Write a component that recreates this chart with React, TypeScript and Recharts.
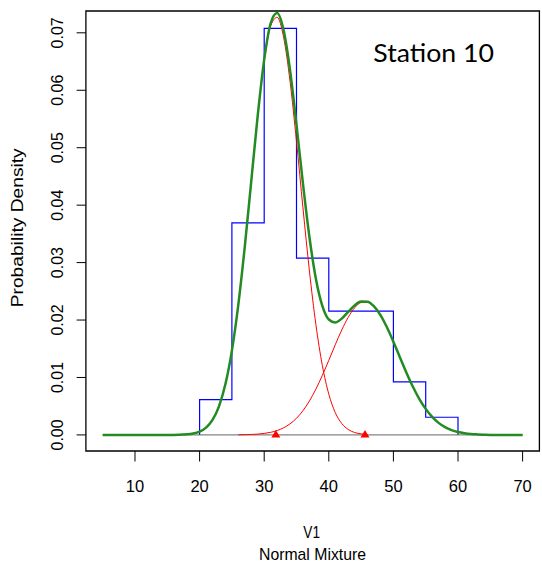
import React from 'react';
import { ComposedChart, Line, Scatter, XAxis, YAxis, ReferenceArea } from 'recharts';

// Histogram (density scale), bin edges and heights, drawn as a step outline
const histX = [20, 20, 25, 30, 35, 40, 45, 50, 55, 60];
const histY = [0, 0.00615, 0.03692, 0.07077, 0.03077, 0.02154, 0.02154, 0.00923, 0.00308, 0];

// Component 1 density (red)
const comp1X = [17, 18, 19, 20, 21, 22, 23, 24, 25, 26, 27, 28, 29, 30, 31, 32, 33, 34, 35, 36, 37, 38, 39, 40, 41, 42, 43, 44, 45, 46];
const comp1Y = [0.00004, 0.0001, 0.00025, 0.00059, 0.00128, 0.00261, 0.00498, 0.00885, 0.01468, 0.02271, 0.03278, 0.04415, 0.05549, 0.06508, 0.07121, 0.0727, 0.06926, 0.06157, 0.05107, 0.03952, 0.02855, 0.01923, 0.01209, 0.0071, 0.00388, 0.00199, 0.00095, 0.00042, 0.00018, 0.00007];

// Component 2 density (red)
const comp2X = [26, 27, 28, 29, 30, 31, 32, 33, 34, 35, 36, 37, 38, 39, 40, 41, 42, 43, 44, 45, 46, 47, 48, 49, 50, 51, 52, 53, 54, 55, 56, 57, 58, 59, 60, 61, 62, 63, 64, 65];
const comp2Y = [0.00002, 0.00004, 0.00008, 0.00014, 0.00026, 0.00045, 0.00076, 0.00123, 0.00193, 0.0029, 0.00422, 0.00591, 0.00797, 0.01037, 0.01299, 0.01569, 0.01826, 0.02047, 0.02213, 0.02305, 0.02313, 0.02237, 0.02086, 0.01873, 0.01622, 0.01353, 0.01088, 0.00843, 0.00629, 0.00453, 0.00314, 0.0021, 0.00135, 0.00084, 0.0005, 0.00029, 0.00016, 0.00009, 0.00004, 0.00002];

// Mixture total (green)
const totalX = [5, 6, 7, 8, 9, 10, 11, 12, 13, 14, 15, 16, 17, 18, 19, 20, 21, 22, 23, 24, 25, 26, 27, 28, 29, 30, 31, 32, 33, 34, 35, 36, 37, 38, 39, 40, 41, 42, 43, 44, 45, 46, 47, 48, 49, 50, 51, 52, 53, 54, 55, 56, 57, 58, 59, 60, 61, 62, 63, 64, 65, 66, 67, 68, 69, 70];
const totalY = [0, 0, 0, 0, 0, 0, 0, 0, 0, 0, 0, 0, 0.00004, 0.0001, 0.00025, 0.00059, 0.00128, 0.00261, 0.00498, 0.00885, 0.01468, 0.02273, 0.03282, 0.04423, 0.05563, 0.06534, 0.07166, 0.07346, 0.07049, 0.0635, 0.05397, 0.04374, 0.03446, 0.0272, 0.02246, 0.02009, 0.01957, 0.02025, 0.02142, 0.02255, 0.02323, 0.0232, 0.02237, 0.02086, 0.01873, 0.01622, 0.01353, 0.01088, 0.00843, 0.00629, 0.00453, 0.00314, 0.0021, 0.00135, 0.00084, 0.0005, 0.00029, 0.00016, 0.00009, 0.00004, 0, 0, 0, 0, 0, 0];

// Component means (triangles)
const meansX = [31.8, 45.6];
const meansY = [0, 0];

// Baseline
const baseX = [5, 70];
const baseY = [0, 0];

const xTicks = [10, 20, 30, 40, 50, 60, 70];
const yTicks = [0, 0.01, 0.02, 0.03, 0.04, 0.05, 0.06, 0.07];
const xDomain = [2.4, 72.6];
const yDomain = [-0.0028, 0.0738];

const title = 'Station 10';
const xLabel = 'V1';
const subLabel = 'Normal Mixture';
const yLabel = 'Probability Density';

const zip = (xs: number[], ys: number[]) => xs.map((x, i) => ({ x, y: ys[i] }));

const FONT = '"Liberation Sans", Arial, sans-serif';

const XTick = (props: any) => {
  const { x, payload } = props;
  return (
    <text x={x} y={491.5} textAnchor="middle" fontSize={16.5} fontFamily={FONT} fill="#000">
      {payload.value}
    </text>
  );
};

const YTick = (props: any) => {
  const { y, payload } = props;
  const bx = 63.3;
  return (
    <text x={bx} y={y} textAnchor="middle" fontSize={16} fontFamily={FONT} fill="#000" transform={`rotate(-90, ${bx}, ${y})`}>
      {payload.value.toFixed(2)}
    </text>
  );
};

const Triangle = (props: any) => {
  const { cx, cy } = props;
  return <path d={`M${cx},${cy - 5} L${cx + 4.5},${cy + 2.5} L${cx - 4.5},${cy + 2.5} Z`} fill="#FF0000" />;
};

export default function App() {
  return (
    <div style={{ position: 'absolute', left: 0, top: 0, width: 542, height: 569, background: '#fff' }}>
      <ComposedChart width={542} height={569} margin={{ top: 11, right: 2.6, bottom: 0, left: 0 }}>
        <XAxis
          dataKey="x"
          type="number"
          domain={xDomain}
          ticks={xTicks}
          allowDataOverflow
          axisLine={false}
          tickSize={10.5}
          tickLine={{ stroke: '#000', strokeWidth: 1 }}
          tick={<XTick />}
          height={118}
          interval={0}
        />
        <YAxis
          dataKey="y"
          type="number"
          domain={yDomain}
          ticks={yTicks}
          allowDataOverflow
          axisLine={false}
          tickSize={9.3}
          tickLine={{ stroke: '#000', strokeWidth: 1 }}
          tick={<YTick />}
          width={85.9}
          interval={0}
        />
        <Line data={zip(histX, histY)} dataKey="y" type="stepAfter" stroke="#0000FF" strokeWidth={1.2} dot={false} isAnimationActive={false} />
        <Line data={zip(baseX, baseY)} dataKey="y" type="linear" stroke="#666666" strokeWidth={1} dot={false} isAnimationActive={false} />
        <Line data={zip(comp1X, comp1Y)} dataKey="y" type="monotone" stroke="#FF0000" strokeWidth={1} dot={false} isAnimationActive={false} />
        <Line data={zip(comp2X, comp2Y)} dataKey="y" type="monotone" stroke="#FF0000" strokeWidth={1} dot={false} isAnimationActive={false} />
        <Line data={zip(totalX, totalY)} dataKey="y" type="monotone" stroke="#228B22" strokeWidth={2.5} dot={false} isAnimationActive={false} />
        <Scatter data={zip(meansX, meansY)} dataKey="y" shape={<Triangle />} isAnimationActive={false} />
        <ReferenceArea x1={xDomain[0]} x2={xDomain[1]} y1={yDomain[0]} y2={yDomain[1]} fill="none" fillOpacity={0} stroke="#000" strokeWidth={1.3} ifOverflow="visible" />
      </ComposedChart>
      <svg width={542} height={569} style={{ position: 'absolute', left: 0, top: 0, pointerEvents: 'none' }}>
        <text x={373.3} y={61.7} fontSize={25.5} fontFamily="Lato, 'Open Sans', sans-serif" fill="#000" textLength={120.7} lengthAdjust="spacingAndGlyphs">
          {title}
        </text>
        <text x={311.7} y={538.3} textAnchor="middle" fontSize={17} fontFamily={FONT} fill="#000" textLength={16.7} lengthAdjust="spacingAndGlyphs">
          {xLabel}
        </text>
        <text x={312.5} y={560} textAnchor="middle" fontSize={17} fontFamily={FONT} fill="#000" textLength={107} lengthAdjust="spacingAndGlyphs">
          {subLabel}
        </text>
        <text x={23.4} y={227.8} textAnchor="middle" fontSize={16.3} fontFamily={FONT} fill="#000" textLength={159} lengthAdjust="spacingAndGlyphs" transform="rotate(-90, 23.4, 227.8)">
          {yLabel}
        </text>
      </svg>
    </div>
  );
}
